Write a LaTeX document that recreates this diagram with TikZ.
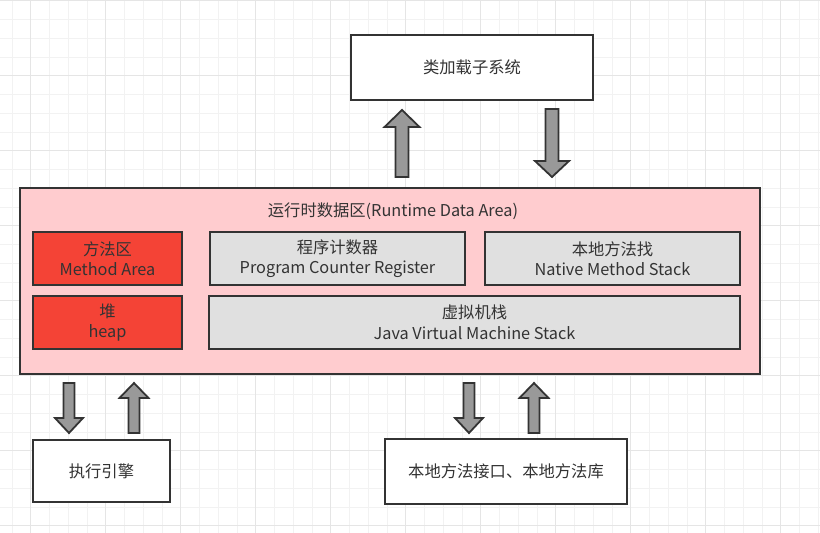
\documentclass[tikz,border=0pt]{standalone}
\usepackage{fontspec}
\setmainfont{Noto Sans CJK SC}
\begin{document}
\begin{tikzpicture}[x=1pt,y=-1pt,
  every node/.style={font=\fontsize{16.3}{20.5}\selectfont, text=black!80, align=center, inner sep=0pt},
  box/.style={draw=black!80, line width=2.2pt, rectangle, fill=white},
  redbox/.style={box, fill=memred},
  graybox/.style={box, fill=memgray},
  blockarrow/.style={draw=black!80, line width=1.8pt, fill=arrowgray, line join=miter},
  gridminor/.style={draw=black!5, line width=0.8pt},
  gridmajor/.style={draw=black!10, line width=0.8pt}
]
\definecolor{memred}{HTML}{F44336}
\definecolor{memgray}{HTML}{E0E0E0}
\definecolor{pinkbg}{HTML}{FFCCCF}
\definecolor{arrowgray}{HTML}{999999}
\useasboundingbox (0,0) rectangle (820,533);
\fill[white] (0,0) rectangle (820,533);
% grid
\foreach \i in {0,...,43} {\draw[gridminor] ({11.95+18.75*\i},0) -- ({11.95+18.75*\i},533);}
\foreach \i in {0,...,28} {\draw[gridminor] (0,{0.7+18.75*\i}) -- (820,{0.7+18.75*\i});}
\foreach \i in {0,...,10} {\draw[gridmajor] ({30.7+75*\i},0) -- ({30.7+75*\i},533);}
\foreach \i in {0,...,7} {\draw[gridmajor] (0,{0.7+75*\i}) -- (820,{0.7+75*\i});}

% boxes
\node[box, minimum width=242, minimum height=65] (cls) at (472,67.5) {类加载子系统};
\node[box, fill=pinkbg, minimum width=740, minimum height=186] (rda) at (390,281) {};
\node (rdatitle) at (393,211) {运行时数据区(Runtime Data Area)};
\node[redbox, minimum width=149, minimum height=53] (method) at (107.5,258.5) {方法区\\Method Area};
\node[redbox, minimum width=149, minimum height=53] (heap) at (107.5,322.5) {堆\\heap};
\node[graybox, minimum width=255, minimum height=53] (pc) at (337.5,258.5) {程序计数器\\Program Counter Register};
\node[graybox, minimum width=255, minimum height=53] (nms) at (612.5,258.5) {本地方法找\\Native Method Stack};
\node[graybox, minimum width=531, minimum height=53] (jvms) at (474.5,322.5) {虚拟机栈\\Java Virtual Machine Stack};
\node[box, minimum width=137, minimum height=62] (exec) at (101.5,471) {执行引擎};
\node[box, minimum width=242, minimum height=65] (native) at (506,471.5) {本地方法接口、本地方法库};

% block arrows: up (x, tip y, bottom y, shaft half, head half, head length)
\newcommand{\blkup}[6]{\draw[blockarrow] (#1-#4,#3) -- (#1-#4,#2+#6) -- (#1-#5,#2+#6) -- (#1,#2) -- (#1+#5,#2+#6) -- (#1+#4,#2+#6) -- (#1+#4,#3) -- cycle;}
\newcommand{\blkdown}[6]{\draw[blockarrow] (#1-#4,#3) -- (#1-#4,#2-#6) -- (#1-#5,#2-#6) -- (#1,#2) -- (#1+#5,#2-#6) -- (#1+#4,#2-#6) -- (#1+#4,#3) -- cycle;}
\blkup{402}{110}{177}{6.5}{17.5}{17}
\blkdown{552}{177}{109}{6.5}{17}{16}
\blkdown{69}{433}{383}{5.5}{14}{15}
\blkup{134}{383}{433}{5.5}{14.5}{15}
\blkdown{469}{433}{383}{5.5}{14}{15}
\blkup{534}{383}{433}{5.5}{14.5}{15}
\end{tikzpicture}
\end{document}
